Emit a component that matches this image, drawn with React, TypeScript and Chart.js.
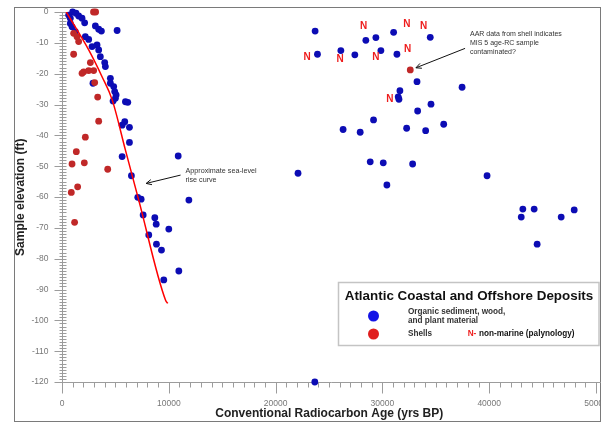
import React, { useEffect, useRef } from "react";
import { Chart, registerables } from "chart.js";

Chart.register(...registerables);

const FONT = '"Liberation Sans", Arial, Helvetica, sans-serif';

// Organic sediment, wood and plant material: radiocarbon age (yrs BP) and elevation (ft)
const organicAges = [
  995, 1310, 620, 780, 1560, 1875, 2120, 780, 940, 3125, 3435, 3690, 5160, 1250, 2185, 2500,
  3280, 2815, 3435, 3590, 4000, 4060, 4530, 4530, 2900, 4840, 4935, 5065, 5000, 4780, 5940,
  6160, 5875, 5630, 6315, 6315, 5630, 10880, 6500, 7095, 7410, 11880, 7600, 8690, 8820, 10000,
  8125, 8845, 9315, 10940, 9530,
  23700, 23920, 26110, 27420, 28450, 29390, 29860, 31050, 31360, 34480, 33240, 37460, 31640,
  31480, 31550, 33300, 34550, 29170, 26320, 27920, 32270, 34050, 35740, 28860, 30080, 32830,
  22100, 39800, 30420, 43000, 43150, 44210, 44490, 46740, 47960, 23670,
];
const organicElevations = [
  0, -0.4, -1, -2, -1.3, -2, -3.5, -3.7, -4.8, -4.5, -5.6, -6.2, -6, -6.4, -8, -8.9,
  -10.7, -11.2, -12.3, -14.5, -16.4, -17.7, -21.5, -23.1, -23.1, -24.2, -25.8, -26.9, -28, -28.9, -29.1,
  -29.3, -35.6, -36.7, -37.4, -42.3, -46.9, -46.7, -53.1, -60.1, -60.7, -61, -65.8, -66.7, -68.8, -70.4,
  -72.3, -75.3, -77.2, -84, -86.9,
  -6.2, -13.7, -12.5, -13.9, -9.2, -8.3, -12.5, -6.6, -13.7, -8.2, -22.6, -24.4, -25.5,
  -27.5, -28.3, -32.1, -29.9, -35, -38.1, -39, -37.7, -38.5, -36.4, -48.6, -48.9, -49.3,
  -52.3, -53.1, -56.1, -66.5, -63.9, -63.9, -75.3, -66.5, -64.2, -120,
];

// Shells
const shellAges = [
  2950, 3150, 1090, 1405, 1560, 1090, 2655, 2030, 2500, 2965, 1875, 3060, 3340, 3435, 2185,
  1340, 940, 2090, 4280, 1465, 870, 1180, 32610,
];
const shellElevations = [
  0, 0, -6.9, -8, -9.6, -13.7, -16.4, -19.4, -19, -19, -19.9, -22.9, -27.6, -35.4, -40.6,
  -45.3, -49.3, -48.9, -51, -56.7, -58.5, -68.2, -18.8,
];

// Approximate sea-level rise curve
const curveAges = [400, 2500, 3750, 4700, 5940, 7185, 9690, 9900];
const curveElevations = [0, -12.3, -21, -28.5, -44.8, -61, -93.4, -94.5];

// "N" (non-marine, palynology) marks
const nonMarineAges = [22960, 26040, 28235, 32300, 33865, 29390, 32360, 30700];
const nonMarineElevations = [-14.7, -15.3, -4.5, -4, -4.5, -14.7, -12.1, -28.2];

const xTickValues = [0, 10000, 20000, 30000, 40000, 50000];
const yTickValues = [0, -10, -20, -30, -40, -50, -60, -70, -80, -90, -100, -110, -120];

const xTitle = "Conventional Radiocarbon Age (yrs BP)";
const yTitle = "Sample elevation (ft)";
const legendTitle = "Atlantic Coastal and Offshore Deposits";
const legendOrganic = ["Organic sediment, wood,", "and plant material"];
const legendShells = "Shells";
const legendNonMarine = "non-marine (palynology)";

// Annotations (anchored in data space)
const curveNoteLines = ["Approximate sea-level", "rise curve"];
const curveNoteAt = { x: 11560, y: -51.5 };
const curveArrow = { fromX: 11100, fromY: -52.9, toX: 7880, toY: -55.6 };
const aarNoteLines = ["AAR data from shell indicates", "MIS 5 age-RC sample", "contaminated?"];
const aarNoteAt = { x: 38200, y: -7.2 };
const aarArrow = { fromX: 37740, fromY: -11.8, toX: 33140, toY: -18.1 };

const BLUE = "#0c0cb4";
const RED = "#c02828";

const toXY = (xs: number[], ys: number[]) => xs.map((v, i) => ({ x: v, y: ys[i] }));

function drawArrow(ctx: CanvasRenderingContext2D, x1: number, y1: number, x2: number, y2: number) {
  ctx.beginPath();
  ctx.moveTo(x1, y1);
  ctx.lineTo(x2, y2);
  ctx.stroke();
  const ang = Math.atan2(y2 - y1, x2 - x1);
  const len = 6;
  ctx.beginPath();
  ctx.moveTo(x2 - len * Math.cos(ang - 0.45), y2 - len * Math.sin(ang - 0.45));
  ctx.lineTo(x2, y2);
  ctx.lineTo(x2 - len * Math.cos(ang + 0.45), y2 - len * Math.sin(ang + 0.45));
  ctx.stroke();
}

const decorPlugin = {
  id: "decor",
  beforeDatasetsDraw(chart: any) {
    const { ctx } = chart;
    const xs = chart.scales.x;
    const ys = chart.scales.y;
    ctx.save();
    // outer frame
    ctx.strokeStyle = "#7a7a7a";
    ctx.lineWidth = 1;
    ctx.strokeRect(14.5, 7.5, 586, 414);

    const x0 = Math.round(xs.getPixelForValue(0)) + 0.5;
    const yTop = ys.getPixelForValue(0);
    const yb = Math.round(ys.getPixelForValue(-120)) + 0.5;
    const xEnd = xs.getPixelForValue(50000);

    ctx.strokeStyle = "#9c9c9c";
    ctx.lineWidth = 1;
    // axis lines
    ctx.beginPath();
    ctx.moveTo(x0, yTop);
    ctx.lineTo(x0, yb);
    ctx.lineTo(601, yb);
    ctx.stroke();

    // y minor ticks (1 ft)
    ctx.beginPath();
    for (let v = -120; v <= 0; v += 1) {
      const py = Math.round(ys.getPixelForValue(v)) + 0.5;
      ctx.moveTo(x0 - 3, py);
      ctx.lineTo(x0 + 4, py);
    }
    ctx.stroke();
    // y major ticks
    ctx.beginPath();
    yTickValues.forEach((v) => {
      const py = Math.round(ys.getPixelForValue(v)) + 0.5;
      ctx.moveTo(x0 - 8, py);
      ctx.lineTo(x0, py);
    });
    ctx.stroke();

    // x minor ticks (1000 yrs)
    ctx.beginPath();
    for (let v = 0; v <= 50000; v += 1000) {
      const px = Math.round(xs.getPixelForValue(v)) + 0.5;
      ctx.moveTo(px, yb);
      ctx.lineTo(px, yb + 5);
    }
    ctx.stroke();
    // x major ticks
    ctx.beginPath();
    xTickValues.forEach((v) => {
      const px = Math.round(xs.getPixelForValue(v)) + 0.5;
      ctx.moveTo(px, yb);
      ctx.lineTo(px, yb + 11);
    });
    ctx.stroke();

    // tick labels
    ctx.fillStyle = "#777777";
    ctx.font = `8.5px ${FONT}`;
    ctx.textAlign = "right";
    ctx.textBaseline = "middle";
    yTickValues.forEach((v) => {
      ctx.fillText(String(v), x0 - 14, ys.getPixelForValue(v));
    });
    ctx.textAlign = "center";
    xTickValues.forEach((v) => {
      ctx.fillText(String(v), xs.getPixelForValue(v), 404);
    });

    // axis titles
    ctx.fillStyle = "#222222";
    ctx.font = `bold 12px ${FONT}`;
    ctx.textAlign = "center";
    ctx.textBaseline = "middle";
    ctx.fillText(xTitle, (x0 + xEnd) / 2, 414);
    ctx.save();
    ctx.translate(21, (yTop + yb) / 2);
    ctx.rotate(-Math.PI / 2);
    ctx.fillText(yTitle, 0, 0);
    ctx.restore();
    ctx.restore();
  },
  afterDraw(chart: any) {
    const { ctx } = chart;
    const xs = chart.scales.x;
    const ys = chart.scales.y;
    ctx.save();

    // N labels
    ctx.fillStyle = "#ee1c1c";
    ctx.font = `bold 10px ${FONT}`;
    ctx.textAlign = "center";
    ctx.textBaseline = "middle";
    nonMarineAges.forEach((a, i) => {
      ctx.fillText("N", xs.getPixelForValue(a), ys.getPixelForValue(nonMarineElevations[i]));
    });

    // annotations
    ctx.fillStyle = "#333333";
    ctx.textAlign = "left";
    ctx.font = `7.2px ${FONT}`;
    const cx = xs.getPixelForValue(curveNoteAt.x);
    const cy = ys.getPixelForValue(curveNoteAt.y);
    curveNoteLines.forEach((t, i) => ctx.fillText(t, cx, cy + i * 9.3));
    ctx.font = `7px ${FONT}`;
    const ax = xs.getPixelForValue(aarNoteAt.x);
    const ay = ys.getPixelForValue(aarNoteAt.y);
    aarNoteLines.forEach((t, i) => ctx.fillText(t, ax, ay + i * 8.7));

    ctx.strokeStyle = "#111111";
    ctx.lineWidth = 1;
    drawArrow(
      ctx,
      xs.getPixelForValue(curveArrow.fromX),
      ys.getPixelForValue(curveArrow.fromY),
      xs.getPixelForValue(curveArrow.toX),
      ys.getPixelForValue(curveArrow.toY)
    );
    drawArrow(
      ctx,
      xs.getPixelForValue(aarArrow.fromX),
      ys.getPixelForValue(aarArrow.fromY),
      xs.getPixelForValue(aarArrow.toX),
      ys.getPixelForValue(aarArrow.toY)
    );

    // legend box
    ctx.fillStyle = "#ffffff";
    ctx.fillRect(338, 282, 261, 64);
    ctx.strokeStyle = "#c4c4c4";
    ctx.lineWidth = 1.5;
    ctx.strokeRect(338.5, 282.5, 260.5, 63);

    ctx.fillStyle = "#111111";
    ctx.font = `bold 13.4px ${FONT}`;
    ctx.textAlign = "center";
    ctx.textBaseline = "middle";
    ctx.fillText(legendTitle, 469, 296);

    ctx.fillStyle = "#1414e6";
    ctx.beginPath();
    ctx.arc(373.5, 316, 5.5, 0, Math.PI * 2);
    ctx.fill();
    ctx.fillStyle = "#e01e1e";
    ctx.beginPath();
    ctx.arc(373.5, 334, 5.5, 0, Math.PI * 2);
    ctx.fill();

    ctx.textAlign = "left";
    ctx.font = `bold 8.2px ${FONT}`;
    ctx.fillStyle = "#333333";
    ctx.fillText(legendOrganic[0], 408, 311.7);
    ctx.fillText(legendOrganic[1], 408, 321);
    ctx.fillText(legendShells, 408, 333.5);
    ctx.fillStyle = "#ee1c1c";
    ctx.fillText("N-", 467.7, 334);
    ctx.fillStyle = "#111111";
    ctx.fillText(legendNonMarine, 479, 334);

    ctx.restore();
  },
};

export default function App() {
  const ref = useRef<HTMLCanvasElement | null>(null);

  useEffect(() => {
    if (!ref.current) return;
    const chart = new Chart(ref.current, {
      type: "scatter",
      data: {
        datasets: [
          {
            label: "Organic sediment, wood, and plant material",
            data: toXY(organicAges, organicElevations),
            backgroundColor: BLUE,
            borderColor: BLUE,
            borderWidth: 0,
            pointRadius: 3.4,
            clip: false,
            order: 3,
          } as any,
          {
            label: "Shells",
            data: toXY(shellAges, shellElevations),
            backgroundColor: RED,
            borderColor: RED,
            borderWidth: 0,
            pointRadius: 3.4,
            clip: false,
            order: 2,
          } as any,
          {
            type: "line",
            label: "Approximate sea-level rise curve",
            data: toXY(curveAges, curveElevations),
            borderColor: "#ff0000",
            borderWidth: 1.5,
            pointRadius: 0,
            showLine: true,
            fill: false,
            cubicInterpolationMode: "monotone",
            order: 1,
          } as any,
        ],
      },
      options: {
        responsive: false,
        animation: false,
        devicePixelRatio: 1,
        layout: { padding: { left: 62, top: 12, right: 44, bottom: 43 } },
        plugins: { legend: { display: false }, tooltip: { enabled: false } },
        scales: {
          x: { type: "linear", min: 0, max: 50000, display: false },
          y: { type: "linear", min: -120, max: 0, display: false },
        },
      } as any,
      plugins: [decorPlugin],
    });
    return () => chart.destroy();
  }, []);

  return (
    <div
      style={{
        position: "fixed",
        left: 0,
        top: 0,
        width: 601,
        height: 425,
        overflow: "hidden",
        background: "#ffffff",
      }}
    >
      <canvas ref={ref} width={640} height={425} style={{ display: "block" }} />
    </div>
  );
}
